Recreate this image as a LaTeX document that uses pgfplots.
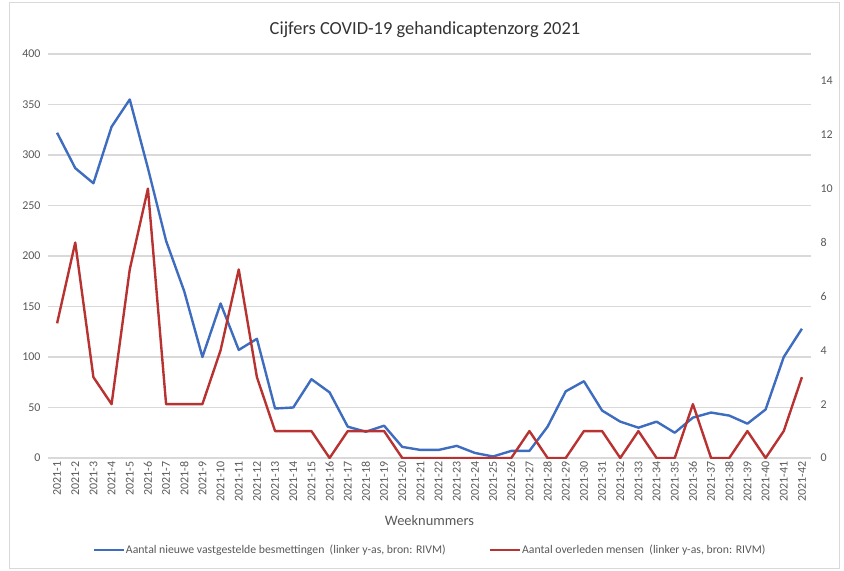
\documentclass[border=0pt]{standalone}
\usepackage{pgfplots}
\pgfplotsset{compat=1.18}
\usepackage{pgfplotstable}
\usepackage{fontspec}
\setmainfont{Carlito}
\definecolor{cblue}{RGB}{62,108,190}
\definecolor{cred}{RGB}{185,50,50}
\definecolor{tgray}{RGB}{89,89,89}
\definecolor{ggray}{RGB}{217,217,217}
\pgfplotstableread{
wk inf
1 322
2 287
3 272
4 328
5 355
6 287
7 215
8 165
9 100
10 153
11 107
12 118
13 49
14 50
15 78
16 65
17 31
18 26
19 32
20 11
21 8
22 8
23 12
24 5
25 1.5
26 7
27 7
28 31
29 66
30 76
31 47
32 36
33 30
34 36
35 25
36 40
37 45
38 42
39 34
40 48
41 100
42 128
}\infected
\pgfplotstableread{
wk dec
1 5
2 8
3 3
4 2
5 7
6 10
7 2
8 2
9 2
10 4
11 7
12 3
13 1
14 1
15 1
16 0
17 1
18 1
19 1
20 0
21 0
22 0
23 0
24 0
25 0
26 0
27 1
28 0
29 0
30 1
31 1
32 0
33 1
34 0
35 0
36 2
37 0
38 0
39 1
40 0
41 1
42 3
}\deceased
\begin{document}
\begin{tikzpicture}
\pgfplotsset{
  base/.style={
    scale only axis, width=763bp, height=404bp,
    xmin=0.5, xmax=42.5,
    axis line style={draw=none},
    major tick length=0pt,
    tick label style={font=\fontsize{12}{14}\selectfont, text=tgray},
    /pgf/number format/assume math mode=true,
  }
}
\begin{axis}[base,
  ymin=0, ymax=400, ytick={0,50,...,400},
  ymajorgrids, grid style={ggray, line width=1.2bp},
  xtick={1,...,42},
  xticklabels={2021-1,2021-2,2021-3,2021-4,2021-5,2021-6,2021-7,2021-8,2021-9,2021-10,2021-11,2021-12,2021-13,2021-14,2021-15,2021-16,2021-17,2021-18,2021-19,2021-20,2021-21,2021-22,2021-23,2021-24,2021-25,2021-26,2021-27,2021-28,2021-29,2021-30,2021-31,2021-32,2021-33,2021-34,2021-35,2021-36,2021-37,2021-38,2021-39,2021-40,2021-41,2021-42},
  xticklabel style={rotate=90, anchor=east, font=\fontsize{12}{14}\selectfont},
  xlabel={Weeknummers},
  xlabel style={at={(axis description cs:0.5,0)}, anchor=center, yshift=-63bp, font=\fontsize{14.5}{16}\selectfont, text=tgray},
  yticklabel style={xshift=-4bp},
]
\addplot[cblue, line width=2.4bp, line join=round] table[x=wk, y=inf] {\infected};
\end{axis}
\begin{axis}[base,
  ymin=0, ymax=15, ytick={0,2,...,14},
  axis y line*=right, axis x line=none,
  yticklabel style={xshift=6bp},
  legend style={at={(0.5,0)}, anchor=center, yshift=-92bp, draw=none, fill=none,
    legend columns=2, font=\fontsize{11.8}{14}\selectfont, text=tgray,
    /tikz/every even column/.append style={column sep=42bp},
    nodes={inner sep=1bp}},
  legend image code/.code={\draw[#1, line width=2.4bp] (0bp,0bp) -- (30bp,0bp);},
]
\addlegendimage{cblue}
\addlegendentry{Aantal nieuwe vastgestelde besmettingen\ \ (linker y-as, bron: RIVM)}
\addplot[cred, line width=2.4bp, line join=round] table[x=wk, y=dec] {\deceased};
\addlegendentry{Aantal overleden mensen\ \ (linker y-as, bron: RIVM)}
\end{axis}
\node[font=\fontsize{18.5}{21}\selectfont, text=black!80] at (377bp,428bp) {Cijfers COVID-19 gehandicaptenzorg 2021};
\draw[ggray, line width=1bp] (-38bp,-110bp) rectangle (791bp,455bp);
\pgfresetboundingbox
\path[use as bounding box] (-48bp,-113bp) rectangle (796bp,458bp);
\end{tikzpicture}
\end{document}
